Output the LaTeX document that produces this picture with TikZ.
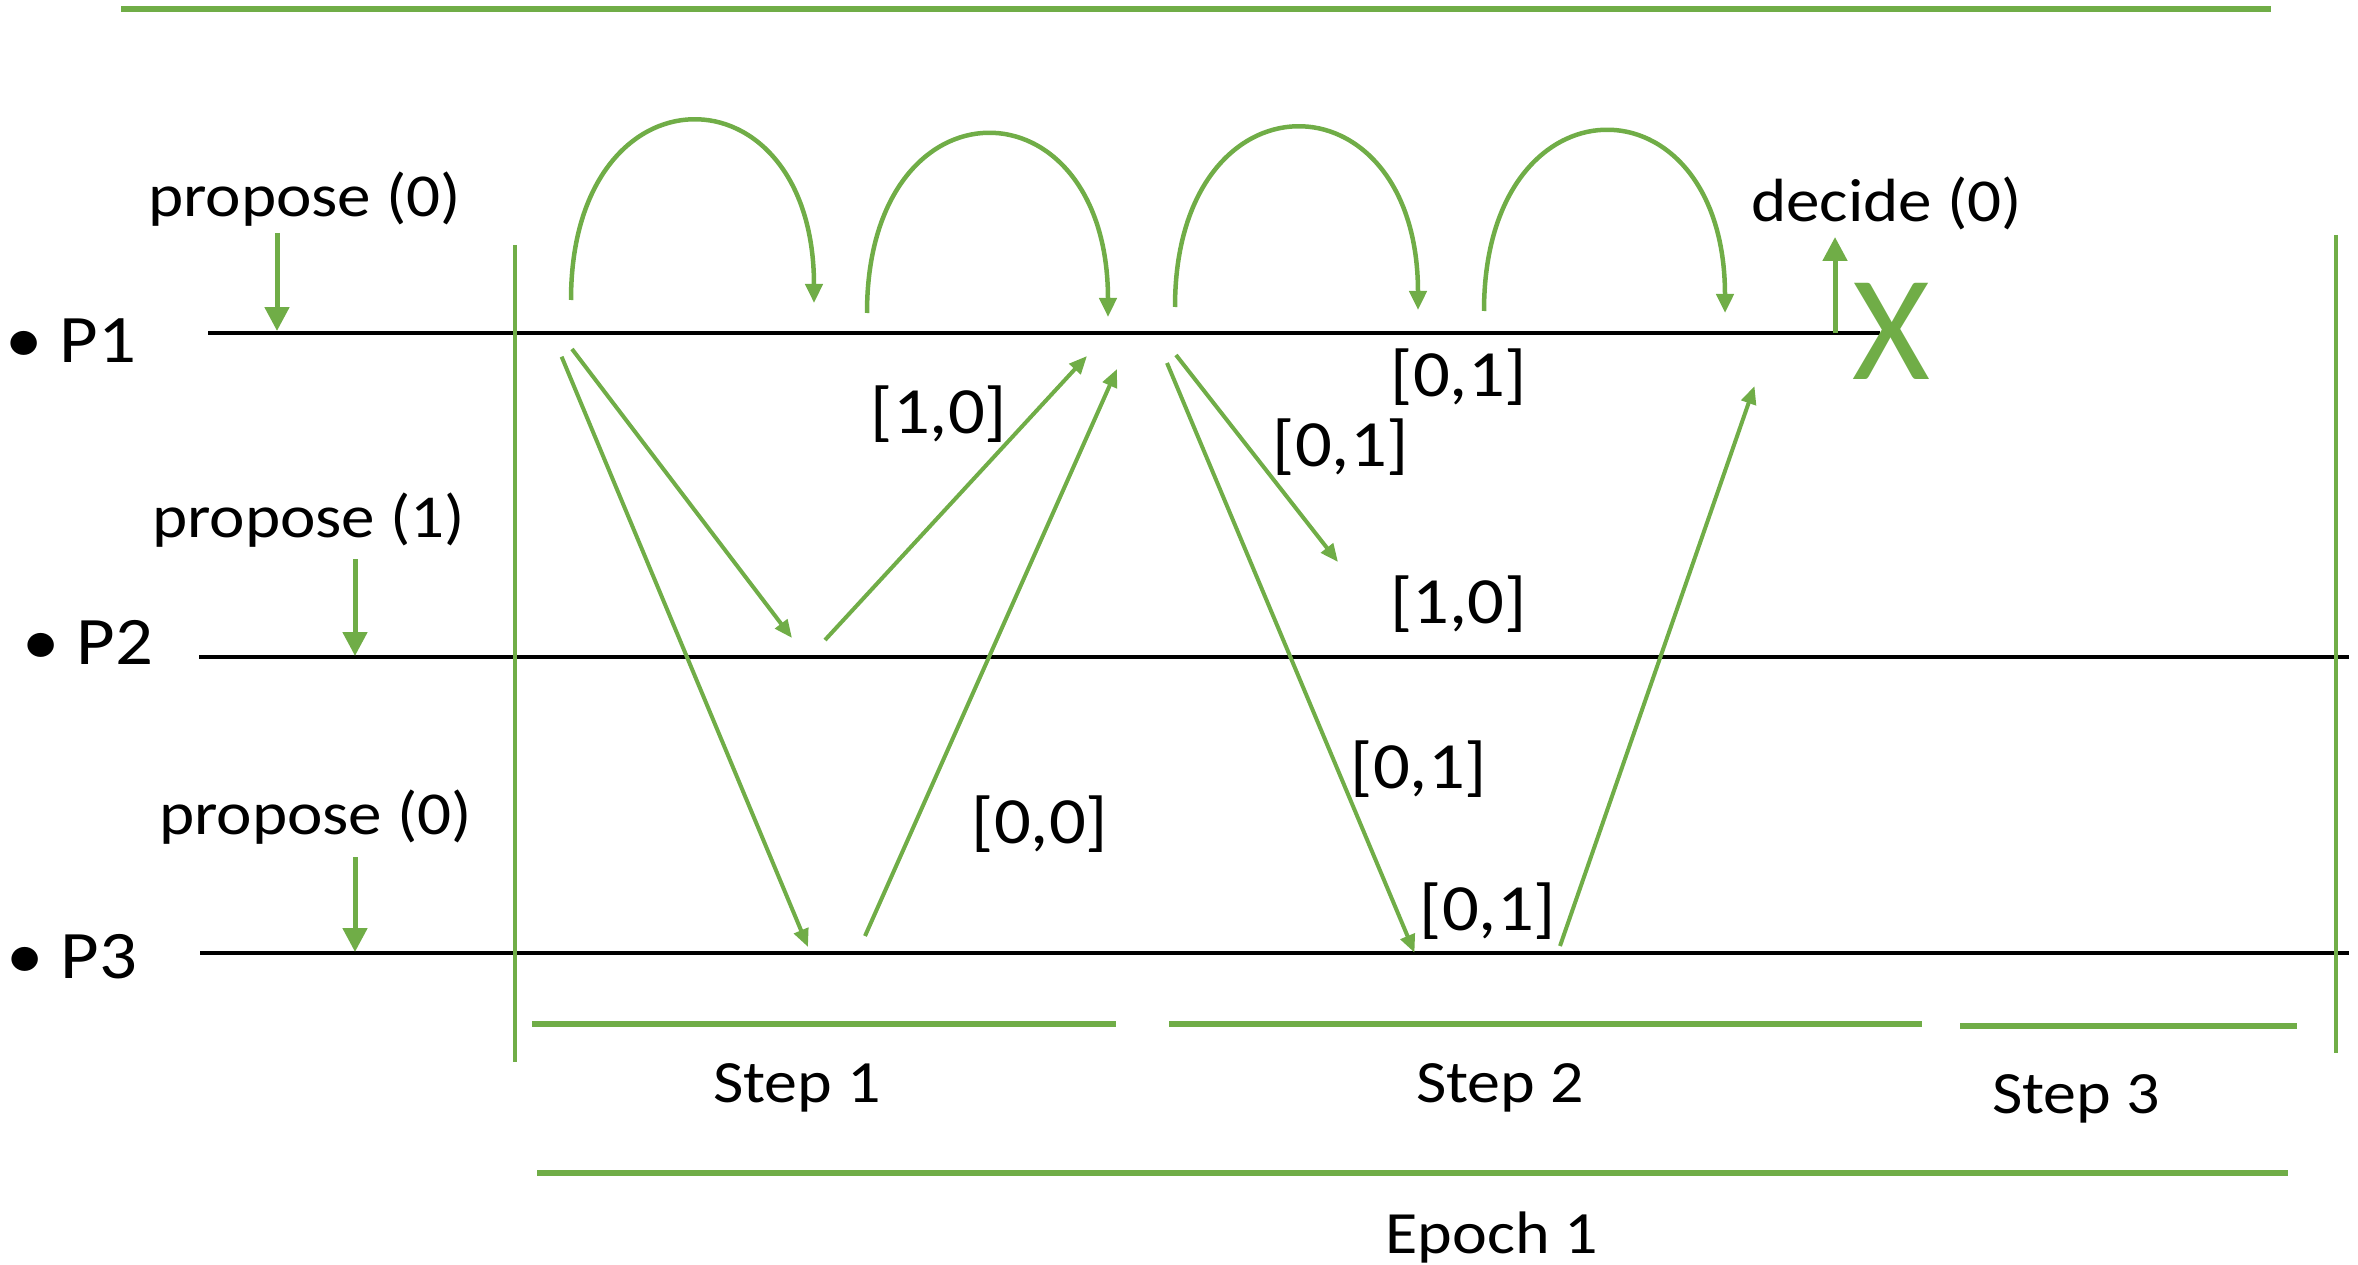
\documentclass[tikz,border=0pt]{standalone}
\usepackage{fontspec}
\setmainfont[FakeStretch=1.1]{Carlito}
\newfontfamily\xfont{Carlito}
\usetikzlibrary{arrows.meta}
\definecolor{og}{HTML}{70AD47}
\begin{document}
\begin{tikzpicture}[x=1pt,y=-1pt,
  txt/.style={inner sep=0pt, font=\fontsize{61pt}{70pt}\selectfont},
  lbl/.style={inner sep=0pt, font=\fontsize{66pt}{72pt}\selectfont},
  plbl/.style={inner sep=0pt, font=\fontsize{68pt}{76pt}\selectfont},
  steptxt/.style={inner sep=0pt, font=\fontsize{60pt}{68pt}\selectfont},
  timeline/.style={line width=3.5pt, black},
  sep/.style={og, line width=3.5pt},
  bar/.style={og, line width=5.5pt},
  arcarrow/.style={og, line width=4.5pt, -{Triangle[length=19pt,width=17pt]}},
  msg/.style={og, line width=4pt, -{Triangle[length=18pt,width=15pt]}},
  prop/.style={og, line width=5pt, -{Triangle[length=24pt,width=24pt]}}]
\useasboundingbox (0,0) rectangle (2358,1265);

% top bar
\coordinate (topL) at (121,9);
\coordinate (topR) at (2271,9);
\draw[og, line width=6.5pt] (topL) -- (topR);

% process labels
\node[plbl, anchor=base west] (p1) at (5,362) {• P1};
\node[plbl, anchor=base west] (p2) at (22,664) {• P2};
\node[plbl, anchor=base west] (p3) at (6,978) {• P3};

% timelines
\coordinate (l1s) at (208,333); \coordinate (l1e) at (1880,333);
\coordinate (l2s) at (199,657); \coordinate (l2e) at (2349,657);
\coordinate (l3s) at (200,953); \coordinate (l3e) at (2349,953);
\draw[timeline] (l1s) -- (l1e);
\draw[timeline] (l2s) -- (l2e);
\draw[timeline] (l3s) -- (l3e);

% separators
\coordinate (sLt) at (515,245); \coordinate (sLb) at (515,1062);
\coordinate (sRt) at (2336,235); \coordinate (sRb) at (2336,1053);
\draw[sep] (sLt) -- (sLb);
\draw[sep] (sRt) -- (sRb);

% propose
\node[txt, anchor=base west] (pr1) at (148,217) {propose (0)};
\node[txt, anchor=base west] (pr2) at (152,537) {propose (1)};
\node[txt, anchor=base west] (pr3) at (159,834) {propose (0)};
\coordinate (pa1s) at (277,233); \coordinate (pa1e) at (277,331);
\coordinate (pa2s) at (355,559); \coordinate (pa2e) at (355,656);
\coordinate (pa3s) at (355,857); \coordinate (pa3e) at (355,952);
\draw[prop] (pa1s) -- (pa1e);
\draw[prop] (pa2s) -- (pa2e);
\draw[prop] (pa3s) -- (pa3e);

% self arcs on P1
\coordinate (a1s) at (571,300); \coordinate (a1e) at (814,303);
\coordinate (a2s) at (867,313); \coordinate (a2e) at (1108,317);
\coordinate (a3s) at (1175,307); \coordinate (a3e) at (1418,310);
\coordinate (a4s) at (1484,311); \coordinate (a4e) at (1725,313);
\draw[arcarrow] (a1s) .. controls +(0,-240) and +(0,-240) .. (a1e);
\draw[arcarrow] (a2s) .. controls +(0,-240) and +(0,-240) .. (a2e);
\draw[arcarrow] (a3s) .. controls +(0,-240) and +(0,-240) .. (a3e);
\draw[arcarrow] (a4s) .. controls +(0,-240) and +(0,-240) .. (a4e);

% messages step 1
\coordinate (ma1) at (561.6,356.7); \coordinate (ma2) at (808,947);
\coordinate (mb1) at (572,349);     \coordinate (mb2) at (792,638);
\coordinate (mc1) at (825,640);     \coordinate (mc2) at (1087,356);
\coordinate (md1) at (865,936);     \coordinate (md2) at (1117,369);
\draw[msg] (ma1) -- (ma2);
\draw[msg] (mb1) -- (mb2);
\draw[msg] (mc1) -- (mc2);
\draw[msg] (md1) -- (md2);
% messages step 2
\coordinate (me1) at (1167,363);  \coordinate (me2) at (1414.5,952.7);
\coordinate (mf1) at (1176,355);  \coordinate (mf2) at (1338,562);
\coordinate (mg1) at (1560,946);  \coordinate (mg2) at (1754.5,386);
\draw[msg] (me1) -- (me2);
\draw[msg] (mf1) -- (mf2);
\draw[msg] (mg1) -- (mg2);

% value labels
\node[lbl] (v1) at (939,414) {[1,0]};
\node[lbl] (v2) at (1459,377) {[0,1]};
\node[lbl] (v3) at (1341,447.5) {[0,1]};
\node[lbl] (v4) at (1458.5,604) {[1,0]};
\node[lbl] (v5) at (1040,824) {[0,0]};
\node[lbl] (v6) at (1419,769) {[0,1]};
\node[lbl] (v7) at (1488,911) {[0,1]};

% decide
\coordinate (dcs) at (1835,333); \coordinate (dce) at (1835,237);
\draw[prop] (dcs) -- (dce);
\node[txt, anchor=base west] (dec) at (1751,222) {decide (0)};
\node[inner sep=0pt, text=og, font=\xfont\fontsize{150pt}{150pt}\selectfont] (crash) at (1891,331.5) {X};

% steps
\coordinate (b1s) at (532,1024); \coordinate (b1e) at (1116,1024);
\coordinate (b2s) at (1169,1024); \coordinate (b2e) at (1922,1024);
\coordinate (b3s) at (1960,1026); \coordinate (b3e) at (2297,1026);
\coordinate (ebs) at (537,1173); \coordinate (ebe) at (2288,1173);
\draw[bar] (b1s) -- (b1e);
\draw[bar] (b2s) -- (b2e);
\draw[bar] (b3s) -- (b3e);
\draw[bar] (ebs) -- (ebe);
\node[steptxt, anchor=base] (s1) at (797,1102) {Step 1};
\node[steptxt, anchor=base] (s2) at (1500,1102) {Step 2};
\node[steptxt, anchor=base] (s3) at (2076,1113) {Step 3};
\node[steptxt, anchor=base] (ep) at (1492,1253) {Epoch 1};
\end{tikzpicture}
\end{document}
